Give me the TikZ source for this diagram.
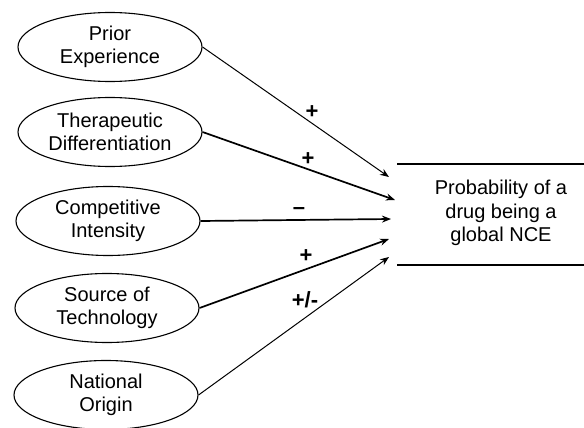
\documentclass[tikz,border=0pt]{standalone}
\usepackage{fontspec}
\setmainfont{Liberation Sans}
\usetikzlibrary{shapes.geometric,arrows.meta}
\begin{document}
\begin{tikzpicture}[x=1pt,y=-1pt,
  factor/.style={ellipse,draw,line width=1.1pt,minimum width=184pt,minimum height=69pt,
    inner sep=0pt,align=center,font=\fontsize{20}{23.5}\selectfont},
  link/.style={line width=1pt,-{Stealth[length=9pt,width=7pt]}},
  boldlink/.style={link,line width=1.7pt},
  sign/.style={font=\fontsize{22}{22}\selectfont\bfseries,inner sep=0pt},
  outcome/.style={align=center,font=\fontsize{20}{23.5}\selectfont,inner sep=0pt},
  rule/.style={line width=1.8pt}]
\useasboundingbox (0,0) rectangle (584,428);

% explanatory factors
\node[factor] (prior) at (110,47)  {Prior\\Experience};
\node[factor] (ther)  at (110,132) {Therapeutic\\Differentiation};
\node[factor] (comp)  at (108,221) {Competitive\\Intensity};
\node[factor] (src)   at (107,308) {Source of\\Technology};
\node[factor] (nat)   at (106,395) {National\\Origin};

% outcome, framed by two rules
\coordinate (tl) at (397,164);
\coordinate (tr) at (584,164);
\coordinate (bl) at (397,265);
\coordinate (br) at (584,265);
\draw[rule] (tl) -- (tr);
\draw[rule] (bl) -- (br);
\node[outcome] (nce) at (501,213) {Probability of a\\drug being a\\global NCE};

% arrow tips in front of the outcome
\coordinate (t1) at (389,177);
\coordinate (t2) at (395,200);
\coordinate (t3) at (391,219);
\coordinate (t4) at (389,239);
\coordinate (t5) at (389,257);

\draw[link]     (prior.east) -- (t1);
\draw[boldlink] (ther.east)  -- (t2);
\draw[boldlink] (comp.east)  -- (t3);
\draw[boldlink] (src.east)   -- (t4);
\draw[link]     (nat.east)   -- (t5);

% signs of the effects
\node[sign] (s1) at (312,112) {+};
\node[sign] (s2) at (308,159) {+};
\node[sign] (s3) at (299,211) {--};
\node[sign] (s4) at (306,256) {+};
\node[sign] (s5) at (305,300) {+/-};
\end{tikzpicture}
\end{document}
